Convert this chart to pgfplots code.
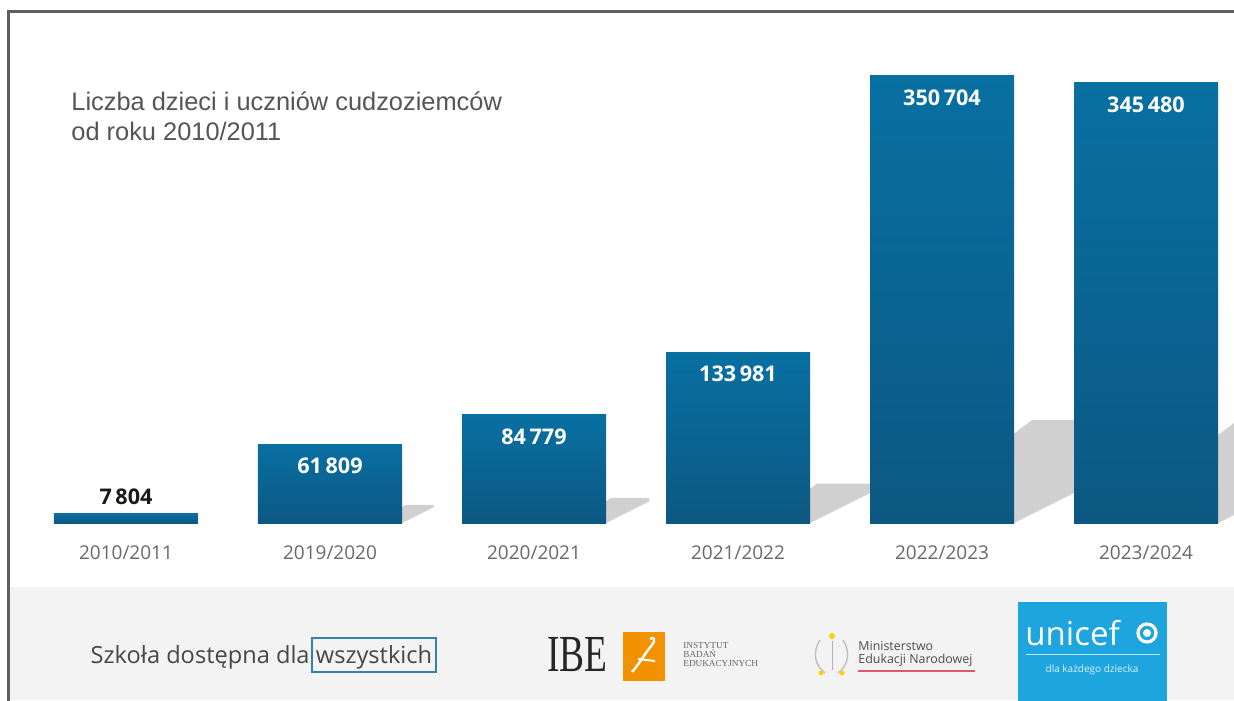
\documentclass[border=0pt]{standalone}
\usepackage{fontspec}
\setmainfont{Open Sans}
\newfontfamily\titlefont{Liberation Sans}
\newfontfamily\seriffont{Liberation Serif}
\usepackage{graphicx}
\usepackage{pgfplots}
\pgfplotsset{compat=1.18}

\definecolor{bartop}{RGB}{8,112,162}
\definecolor{barbot}{RGB}{12,88,130}
\definecolor{titlegray}{RGB}{85,85,85}
\definecolor{labgray}{RGB}{105,105,105}
\definecolor{footbg}{RGB}{243,243,243}
\definecolor{framegray}{RGB}{95,95,95}
\definecolor{unicefblue}{RGB}{30,165,222}
\definecolor{ibeorange}{RGB}{242,146,0}
\definecolor{boxblue}{RGB}{50,130,170}
\definecolor{menred}{RGB}{220,90,110}
\definecolor{shadowgray}{RGB}{208,208,208}

\newcommand{\valfont}{\fontsize{10.8}{12}\selectfont\bfseries}
\newcommand{\catfont}{\fontsize{9.5}{10}\selectfont}

\pgfplotsset{
  barstyle/.style={ybar, bar width=0.7059, bar shift=0pt, draw=none,
    top color=bartop, bottom color=barbot,
    point meta=explicit symbolic, nodes near coords},
  inlabel/.style={every node near coord/.append style={anchor=center, yshift=-11pt, text=white, font=\valfont}},
}
\tikzset{shadowfill/.style={fill=shadowgray, draw=none}}

\begin{document}
\begin{tikzpicture}
\useasboundingbox (0pt,-88.5pt) rectangle (617pt,261.5pt);
\clip (0pt,-88.5pt) rectangle (617pt,261.5pt);
\fill[white] (0pt,-88.5pt) rectangle (617pt,261.5pt);

\begin{scope}[x=0.5pt,y=-0.5pt,shift={(0pt,261.5pt)}]
  % footer background
  \fill[footbg] (9,587) rectangle (1234,700);
  % frame
  \draw[framegray, line width=1.5pt] (8,702) -- (8,12) -- (1236,12);
  % title
  \node[anchor=base west, inner sep=0pt, text=titlegray, font=\titlefont\fontsize{12.7}{14}\selectfont] at (71,111) {Liczba dzieci i uczniów cudzoziemców};
  \node[anchor=base west, inner sep=0pt, text=titlegray, font=\titlefont\fontsize{12.7}{14}\selectfont] at (71,141) {od roku 2010/2011};
\end{scope}

\begin{axis}[
  at={(0pt,0pt)}, anchor=south west,
  scale only axis, width=617pt, height=261.5pt,
  xmin=-0.6176, xmax=5.4314, ymin=0, ymax=410330,
  axis line style={draw=none},
  major tick length=0pt,
  ytick=\empty,
  xtick={0,1,2,3,4,5},
  xticklabels={2010/2011,2019/2020,2020/2021,2021/2022,2022/2023,2023/2024},
  xticklabel style={anchor=base, yshift=-18pt, font=\catfont, text=labgray},
]
  % shadows
  \fill[shadowfill] (axis cs:1.353,0) -- (axis cs:1.353,12362) -- (axis cs:1.3685,14216) -- (axis cs:1.5075,14216) -- (axis cs:1.5075,12362) -- cycle;
  \fill[shadowfill] (axis cs:2.353,0) -- (axis cs:2.353,16956) -- (axis cs:2.3742,19499) -- (axis cs:2.5649,19499) -- (axis cs:2.5649,16956) -- cycle;
  \fill[shadowfill] (axis cs:3.353,0) -- (axis cs:3.353,26796) -- (axis cs:3.3865,30816) -- (axis cs:3.6879,30816) -- (axis cs:3.6879,26796) -- cycle;
  \fill[shadowfill] (axis cs:4.353,0) -- (axis cs:4.353,70141) -- (axis cs:4.4407,80662) -- (axis cs:5.2295,80662) -- (axis cs:5.2295,70141) -- cycle;
  \fill[shadowfill] (axis cs:5.353,0) -- (axis cs:5.353,69096) -- (axis cs:5.4393,79460) -- (axis cs:6.2164,79460) -- (axis cs:6.2164,69096) -- cycle;

  % bars
  \addplot[barstyle, every node near coord/.append style={anchor=center, yshift=8pt, text=black!90, font=\valfont}]
    coordinates {(0,7804) [7\,804]};
  \addplot[barstyle, inlabel] coordinates {(1,61809) [61\,809]};
  \addplot[barstyle, inlabel] coordinates {(2,84779) [84\,779]};
  \addplot[barstyle, inlabel] coordinates {(3,133981) [133\,981]};
  \addplot[barstyle, inlabel] coordinates {(4,350704) [350\,704]};
  \addplot[barstyle, inlabel] coordinates {(5,345480) [345\,480]};
\end{axis}

\begin{scope}[x=0.5pt,y=-0.5pt,shift={(0pt,261.5pt)}]
  % footer slogan
  \node[anchor=base east, inner sep=0pt, text=black!72, font=\fontsize{11.8}{13}\selectfont] at (310,663) {Szkoła dostępna dla};
  \draw[boxblue, line width=0.6pt] (312,638) rectangle (436,672);
  \node[anchor=base, inner sep=0pt, text=black!72, font=\fontsize{11.8}{13}\selectfont] at (374,663) {wszystkich};
  % IBE logo
  \node[anchor=base west, inner sep=0pt, text=black!85, font=\seriffont\fontsize{26}{26}\selectfont] at (547,671) {\scalebox{0.72}[1]{IBE}};
  \fill[ibeorange] (623,632) rectangle (665,681);
  \draw[white, line width=1.2pt] (632,672) .. controls (640,663) and (645,653) .. (652,645) .. controls (656,640) and (654,636) .. (650,639);
  \draw[white, line width=1pt] (638,659) -- (655,661);
  \node[anchor=base west, inner sep=0pt, text=black!60, font=\seriffont\fontsize{4.6}{5}\selectfont] at (683,648) {INSTYTUT};
  \node[anchor=base west, inner sep=0pt, text=black!60, font=\seriffont\fontsize{4.6}{5}\selectfont] at (683,657) {BADAŃ};
  \node[anchor=base west, inner sep=0pt, text=black!60, font=\seriffont\fontsize{4.6}{5}\selectfont] at (683,666) {EDUKACYJNYCH};
  % MEN logo
  \draw[black!25, line width=0.7pt] (820,640) .. controls (812,652) and (815,666) .. (825,673);
  \draw[black!25, line width=0.7pt] (843,640) .. controls (851,652) and (848,666) .. (838,673);
  \fill[yellow!70!orange] (832,636) circle (3);
  \fill[yellow!70!orange] (821,673) circle (2.5);
  \fill[yellow!70!orange] (842,673) circle (2.5);
  \draw[black!30, line width=0.5pt] (832,641) -- (832,670);
  \node[anchor=base west, inner sep=0pt, text=black!70, font=\fontsize{6.2}{7}\selectfont] at (858,650) {Ministerstwo};
  \node[anchor=base west, inner sep=0pt, text=black!70, font=\fontsize{6.2}{7}\selectfont] at (858,663) {Edukacji Narodowej};
  \draw[menred, line width=0.8pt] (858,671) -- (975,671);
  % UNICEF logo
  \fill[unicefblue] (1018,602) rectangle (1167,702);
  \node[anchor=base west, inner sep=0pt, text=white, font=\fontsize{16.5}{17}\selectfont] at (1025,645) {unicef};
  \draw[white, line width=1.6pt] (1147,633) circle (9);
  \fill[white] (1147,633) circle (4);
  \draw[white!70!unicefblue, line width=0.3pt] (1026,654) -- (1160,654);
  \node[anchor=base, inner sep=0pt, text=white!85!unicefblue, font=\fontsize{5}{5}\selectfont] at (1092,672) {dla każdego dziecka};
\end{scope}
\end{tikzpicture}
\end{document}
